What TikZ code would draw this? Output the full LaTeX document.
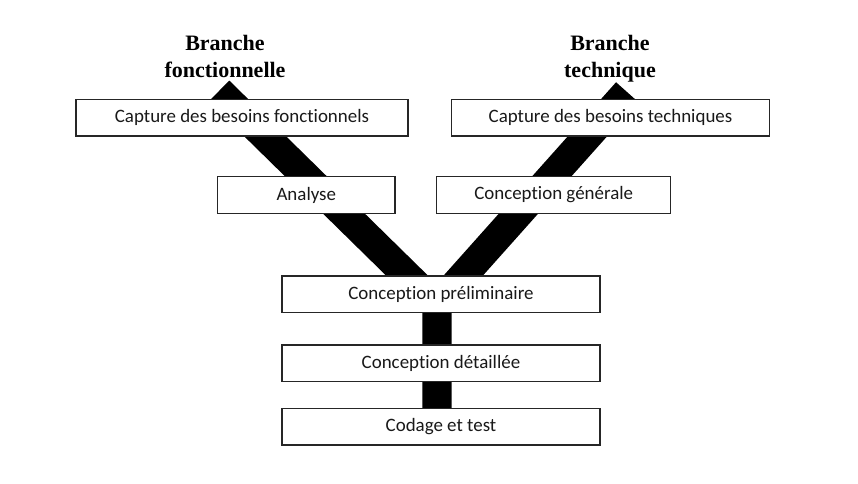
\documentclass[tikz,border=0pt]{standalone}
\usepackage{fontspec}
\setmainfont{Carlito}[Ligatures=NoCommon]
\newfontfamily\titlefont{Liberation Serif}
\begin{document}
\begin{tikzpicture}[x=0.75pt,y=-0.75pt,
    etape/.style={draw=black!85,line width=0.9pt,fill=white,minimum height=27.5pt,
      inner sep=0pt,text=black!90,font=\fontsize{14.2}{17}\selectfont},
    branche/.style={align=center,anchor=north,inner sep=0pt,
      font=\titlefont\bfseries\fontsize{16.5}{20}\selectfont},
    bande/.style={line width=22pt,black}]
    \useasboundingbox (0,0) rectangle (858,483);

    % titres des deux branches
    \node[branche] (tf) at (225,35) {Branche\\fonctionnelle};
    \node[branche] (tt) at (610,35) {Branche\\technique};

    % le Y
    \coordinate (hautf) at (219,91);
    \coordinate (hautt) at (627,92);
    \coordinate (jonction) at (437,305);
    \coordinate (bas) at (437,430);
    \draw[bande] (hautf) -- (jonction) -- (bas);
    \draw[bande] (hautt) -- (jonction);

    % branche fonctionnelle
    \node[etape,minimum width=249pt] (cbf) at (242,117.6) {Capture des besoins fonctionnels};
    \node[etape,minimum width=133pt] (ana) at (306.3,195) {Analyse};

    % branche technique
    \node[etape,minimum width=238.2pt] (cbt) at (610.5,117.6) {Capture des besoins techniques};
    \node[etape,minimum width=175.5pt] (cg) at (553.7,195) {Conception générale};

    % tronc commun
    \node[etape,minimum width=238.5pt] (cp) at (441,294.3) {Conception préliminaire};
    \node[etape,minimum width=238.5pt] (cd) at (441,363.3) {Conception détaillée};
    \node[etape,minimum width=238.5pt] (ct) at (441,426.7) {Codage et test};
  \end{tikzpicture}
\end{document}
